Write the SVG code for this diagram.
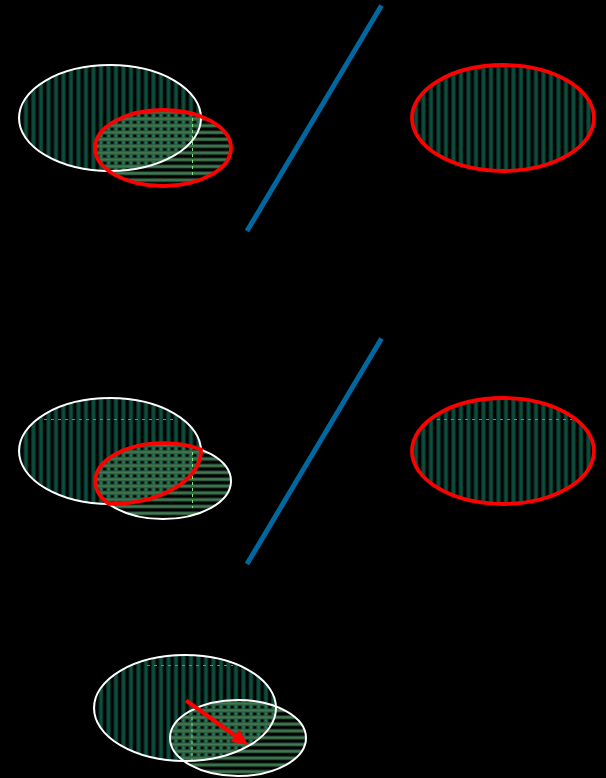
<svg xmlns="http://www.w3.org/2000/svg" width="606" height="778" viewBox="0 0 606 778">
<style>
.bg{fill:#000}
.v{fill:url(#vstripes)}
.h{fill:url(#hstripes)}
.vb{fill:url(#vbright)}
.ws{fill:none;stroke:#ffffff;stroke-width:2}
.rs{fill:none;stroke:#ff0000;stroke-width:3.8}
.sep{stroke:#0068a0;stroke-width:5;fill:none}
.dt{stroke:#2aa882;stroke-width:1;stroke-dasharray:3 4;fill:none}
.dg{stroke:#86e086;stroke-width:1;stroke-dasharray:3 3;fill:none}
</style>
<defs>
<pattern id="vstripes" patternUnits="userSpaceOnUse" width="7.5" height="10">
<rect x="1.2" y="0" width="4.6" height="10" fill="#06362a"/>
<rect x="2.3" y="0" width="2.4" height="10" fill="#0c4f3e"/>
</pattern>
<pattern id="vbright" patternUnits="userSpaceOnUse" width="7.5" height="10">
<rect x="1.5" y="0" width="4" height="10" fill="#164e3a"/>
<rect x="2.5" y="0" width="2" height="10" fill="#2a7e5a"/>
</pattern>
<pattern id="hstripes" patternUnits="userSpaceOnUse" width="10" height="6.8">
<rect x="0" y="1.4" width="10" height="3.8" fill="#264f36"/>
<rect x="0" y="2.3" width="10" height="2" fill="#437b53"/>
</pattern>
<clipPath id="cb1"><ellipse cx="110" cy="118" rx="91" ry="53"/></clipPath>
<clipPath id="cb2"><ellipse cx="110" cy="451" rx="91" ry="53"/></clipPath>
<clipPath id="cb3"><ellipse cx="185" cy="708" rx="91" ry="53"/></clipPath>
</defs>
<rect class="bg" x="0" y="0" width="606" height="778"/>

<g id="row1-left">
<ellipse class="v" cx="110" cy="118" rx="91" ry="53"/>
<ellipse class="h" cx="163" cy="148" rx="68" ry="38"/>
<ellipse class="vb" cx="163" cy="148" rx="68" ry="38" clip-path="url(#cb1)"/>
<ellipse class="h" cx="163" cy="148" rx="68" ry="38" clip-path="url(#cb1)"/>
<line class="dg" x1="192.5" y1="118" x2="192.5" y2="178"/>
<ellipse class="ws" cx="110" cy="118" rx="91" ry="53"/>
<ellipse class="rs" cx="163" cy="148" rx="68" ry="38"/>
</g>

<g id="row1-right">
<ellipse class="v" cx="503" cy="118" rx="91" ry="53"/>
<ellipse class="rs" cx="503" cy="118" rx="91" ry="53"/>
</g>

<g id="row2-left">
<ellipse class="v" cx="110" cy="451" rx="91" ry="53"/>
<ellipse class="h" cx="163" cy="481" rx="68" ry="38"/>
<ellipse class="vb" cx="163" cy="481" rx="68" ry="38" clip-path="url(#cb2)"/>
<ellipse class="h" cx="163" cy="481" rx="68" ry="38" clip-path="url(#cb2)"/>
<line class="dt" x1="44" y1="419.5" x2="177" y2="419.5"/>
<line class="dg" x1="192.5" y1="452" x2="192.5" y2="508"/>
<ellipse class="ws" cx="110" cy="451" rx="91" ry="53"/>
<ellipse class="ws" cx="163" cy="481" rx="68" ry="38"/>
<path class="rs" d="M200.9,449.5 A68,38 0 0 0 108.8,503.9 A91,53 0 0 0 200.9,449.5 Z"/>
</g>

<g id="row2-right">
<ellipse class="v" cx="503" cy="451" rx="91" ry="53"/>
<line class="dt" x1="437" y1="419.5" x2="572" y2="419.5"/>
<ellipse class="rs" cx="503" cy="451" rx="91" ry="53"/>
</g>

<g id="row3">
<ellipse class="v" cx="185" cy="708" rx="91" ry="53"/>
<ellipse class="h" cx="238" cy="738" rx="68" ry="38"/>
<ellipse class="vb" cx="238" cy="738" rx="68" ry="38" clip-path="url(#cb3)"/>
<ellipse class="h" cx="238" cy="738" rx="68" ry="38" clip-path="url(#cb3)"/>
<line class="dt" x1="147" y1="665.5" x2="233" y2="665.5"/>
<line class="dg" x1="192" y1="717" x2="192" y2="760"/>
<ellipse class="ws" cx="185" cy="708" rx="91" ry="53"/>
<ellipse class="ws" cx="238" cy="738" rx="68" ry="38"/>
</g>

<g id="connectors">
<line class="sep" x1="381.5" y1="5.5" x2="247" y2="231"/>
<line class="sep" x1="381.5" y1="338.5" x2="247" y2="564"/>
<line x1="186" y1="700.5" x2="237" y2="737" stroke="#ff0000" stroke-width="4"/>
<polygon points="248,745 230.5,741.6 239.4,729.5" fill="#ff0000"/>
</g>
</svg>
